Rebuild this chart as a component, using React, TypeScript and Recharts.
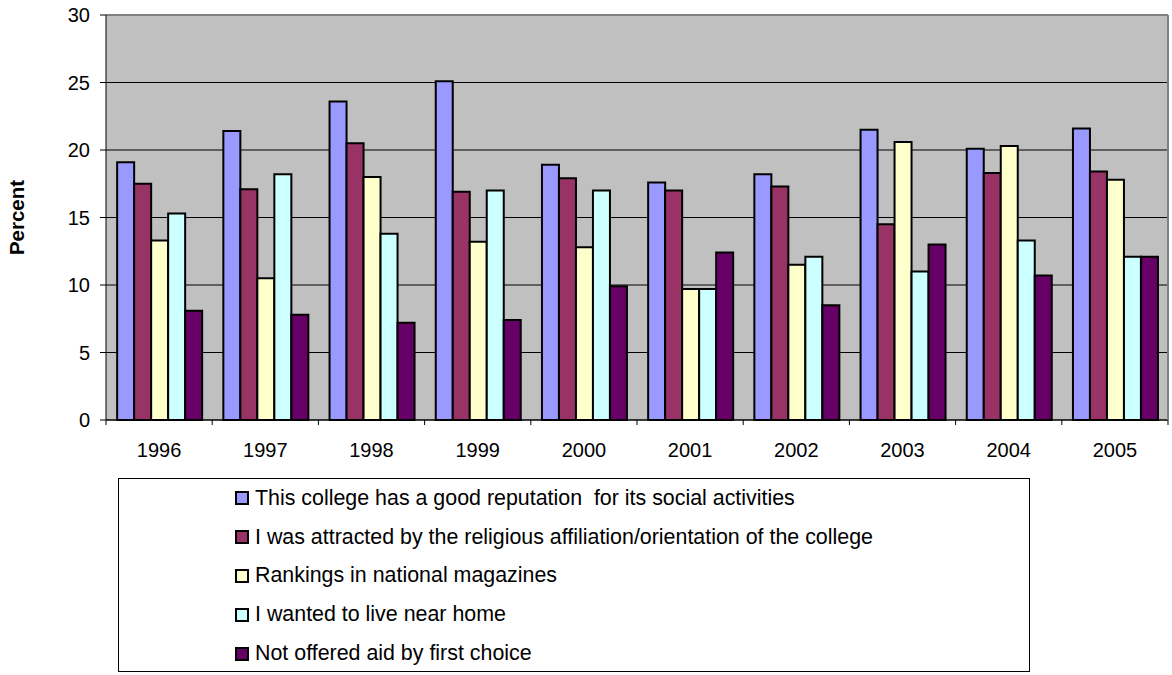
import { BarChart, Bar, XAxis, YAxis, CartesianGrid, ReferenceLine } from 'recharts';

const years = ['1996', '1997', '1998', '1999', '2000', '2001', '2002', '2003', '2004', '2005'];

const socialReputation = [19.1, 21.4, 23.6, 25.1, 18.9, 17.6, 18.2, 21.5, 20.1, 21.6];
const religiousAffiliation = [17.5, 17.1, 20.5, 16.9, 17.9, 17.0, 17.3, 14.5, 18.3, 18.4];
const magazineRankings = [13.3, 10.5, 18.0, 13.2, 12.8, 9.7, 11.5, 20.6, 20.3, 17.8];
const liveNearHome = [15.3, 18.2, 13.8, 17.0, 17.0, 9.7, 12.1, 11.0, 13.3, 12.1];
const notOfferedAid = [8.1, 7.8, 7.2, 7.4, 9.9, 12.4, 8.5, 13.0, 10.7, 12.1];

const yTicks = [0, 5, 10, 15, 20, 25, 30];

const series = [
  { key: 'social', name: 'This college has a good reputation  for its social activities', values: socialReputation, color: '#9999FF' },
  { key: 'religious', name: 'I was attracted by the religious affiliation/orientation of the college', values: religiousAffiliation, color: '#993366' },
  { key: 'rankings', name: 'Rankings in national magazines', values: magazineRankings, color: '#FFFFCC' },
  { key: 'home', name: 'I wanted to live near home', values: liveNearHome, color: '#CCFFFF' },
  { key: 'aid', name: 'Not offered aid by first choice', values: notOfferedAid, color: '#660066' },
];

const data = years.map((year, i) => {
  const row: Record<string, string | number> = { year };
  series.forEach((s) => {
    row[s.key] = s.values[i];
  });
  return row;
});

const FONT = '"Liberation Sans", Arial, sans-serif';
const PLOT_LEFT = 106;
const PLOT_RIGHT = 1168;
const BAND = (PLOT_RIGHT - PLOT_LEFT) / years.length;

// excel puts the tick marks between categories, label stays centered
function YearTick(props: any) {
  const { x, y, payload, index } = props;
  const isLast = index === years.length - 1;
  return (
    <g>
      <line x1={x - BAND / 2} x2={x - BAND / 2} y1={y - 8} y2={y - 3} stroke="#000" />
      {isLast && <line x1={x + BAND / 2} x2={x + BAND / 2} y1={y - 8} y2={y - 3} stroke="#000" />}
      <text x={x} y={y + 29} textAnchor="middle" fontSize={20} fontFamily={FONT} fill="#000">
        {payload.value}
      </text>
    </g>
  );
}

export default function App() {
  return (
    <div style={{ position: 'absolute', left: 0, top: 0, width: 1172, height: 675, background: '#fff', fontFamily: FONT }}>
      <BarChart
        width={1172}
        height={480}
        data={data}
        margin={{ top: 15, right: 0, left: 0, bottom: 0 }}
        barCategoryGap="10.5%"
        barGap={0}
      >
        <CartesianGrid
          vertical={false}
          stroke="#000"
          fill="#C0C0C0"
          fillOpacity={1}
        />
        <XAxis
          dataKey="year"
          height={60}
          axisLine={{ stroke: '#000' }}
          tickLine={false}
          tick={<YearTick />}
          interval={0}
        />
        <YAxis
          width={PLOT_LEFT}
          domain={[0, 30]}
          ticks={yTicks}
          interval={0}
          axisLine={{ stroke: '#000' }}
          tickLine={{ stroke: '#000' }}
          tickSize={6}
          tickMargin={10}
          tick={{ fontSize: 20, fontFamily: FONT, fill: '#000' }}
          label={{
            value: 'Percent',
            angle: -90,
            position: 'center',
            dx: -36,
            style: { fontSize: 20.5, fontWeight: 'bold', fontFamily: FONT, fill: '#000' },
          }}
        />
        <YAxis
          yAxisId="frame"
          orientation="right"
          width={4}
          domain={[0, 30]}
          tick={false}
          tickLine={false}
          axisLine={{ stroke: '#808080', strokeWidth: 2 }}
        />
        <ReferenceLine y={30} stroke="#808080" strokeWidth={2} />
        {series.map((s) => (
          <Bar
            key={s.key}
            dataKey={s.key}
            name={s.name}
            fill={s.color}
            stroke="#000"
            strokeWidth={2}
            isAnimationActive={false}
          />
        ))}
      </BarChart>
      <div
        style={{
          position: 'absolute',
          left: 118,
          top: 478,
          width: 910,
          height: 192,
          border: '1px solid #000',
          boxSizing: 'content-box',
        }}
      >
        {series.map((s) => (
          <div
            key={s.key}
            style={{
              display: 'flex',
              alignItems: 'center',
              height: 38.8,
              paddingLeft: 116,
              fontSize: 21.4,
              color: '#000',
              whiteSpace: 'pre',
            }}
          >
            <span
              style={{
                display: 'inline-block',
                width: 10,
                height: 10,
                background: s.color,
                border: '2px solid #000',
                marginRight: 6,
              }}
            />
            {s.name}
          </div>
        ))}
      </div>
    </div>
  );
}
